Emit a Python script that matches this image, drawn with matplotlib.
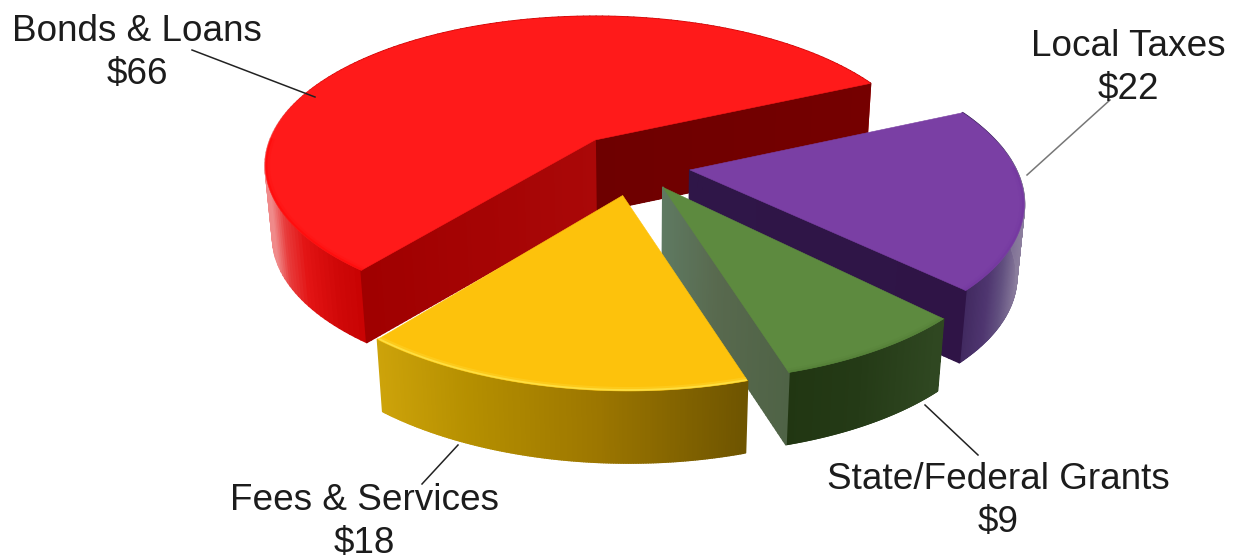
import numpy as np
import matplotlib
matplotlib.use("Agg")
import matplotlib.pyplot as plt
from matplotlib.collections import PolyCollection
from matplotlib.colors import to_rgb

# Revenue sources, listed clockwise from the top slice
categories = ["Bonds & Loans", "Local Taxes", "State/Federal Grants", "Fees & Services"]
values = [66, 22, 9, 18]

# Scene geometry for the tilted, exploded pie
CX, CY = 595, 140
RADIUS, TILT, PERSP = 325, 0.445, 0.17
THICK = 72
START_DEG = 24.8
TAPER, TAPER_X = 0.98, 640

# Per-slice styling
offsets = [(0.0, 0.0), (0.282, -0.20), (0.198, -0.31), (0.08, -0.36)]
radii = [1.0, 0.97, 0.99, 0.98]
twists = [0.0, -0.8, -1.9, -0.8]
top_colors = ["#ff1a1a", "#7a3fa4", "#5d8a3f", "#fdc20c"]
rim_colors = ["#ff0808", "#74369f", "#527e36", "#fff060"]
side_stops = [
    [(272, "#f08a8a"), (285, "#e83c3c"), (305, "#e31414"), (335, "#d00808"), (375, "#c40000")],
    [(955, "#3a2358"), (990, "#4f3670"), (1005, "#625080"), (1026, "#8f82a0")],
    [(788, "#213612"), (860, "#243a16"), (938, "#2f4721")],
    [(378, "#cda30a"), (470, "#b58f00"), (600, "#9c7600"), (745, "#6f5500")],
]
# Each radial wall is (start-side stops, end-side stops); None leaves that wall out
wall_stops = [
    ([(595, "#6e0000"), (875, "#750000")], [(365, "#a00000"), (595, "#aa0808")]),
    ([(690, "#2f1648"), (965, "#2f1446")], None),
    ([(663, "#5f7a62"), (720, "#58694e"), (790, "#4f6346")], None),
    (None, None),
]

plt.rcParams["font.family"] = ["Liberation Sans", "DejaVu Sans"]
fig = plt.figure(figsize=(12.36, 5.6), dpi=100)
ax = fig.add_axes([0, 0, 1, 1])
ax.set_xlim(0, 1236)
ax.set_ylim(560, 0)
ax.axis("off")


def project(u, v, z=0.0):
    w = 1 + PERSP * v
    x = CX + RADIUS * u / w
    y = CY - RADIUS * TILT * v / w
    x = TAPER_X + (x - TAPER_X) * (1 - (1 - TAPER) * z)
    y = y + THICK * z
    return x, y


def shade(x, stops):
    xs = [s[0] for s in stops]
    rgb = np.array([to_rgb(s[1]) for s in stops])
    return np.column_stack([np.interp(x, xs, rgb[:, i]) for i in range(3)])


def strip(x0, y0, x1, y1, stops, zorder):
    """Fill the band between two polylines, shaded by horizontal position."""
    quads = [
        [(x0[i], y0[i]), (x0[i + 1], y0[i + 1]), (x1[i + 1], y1[i + 1]), (x1[i], y1[i])]
        for i in range(len(x0) - 1)
    ]
    cols = shade((x0[:-1] + x0[1:]) / 2, stops)
    ax.add_collection(PolyCollection(quads, facecolors=cols, edgecolors=cols,
                                     linewidths=1.3, zorder=zorder))


def draw_slice(i, a0, a1, z):
    du, dv = offsets[i]
    r = radii[i]
    a0, a1 = a0 + twists[i], a1 + twists[i]
    th = np.radians(np.linspace(a0, a1, 160))
    u, v = du + r * np.cos(th), dv + r * np.sin(th)

    # Outer curved wall
    xt, yt = project(u, v)
    xb, yb = project(u, v, np.ones_like(u))
    strip(xt, yt, xb, yb, side_stops[i], z)

    # Radial walls run from the apex out to the rim at each edge of the slice
    for stops, ang in zip(wall_stops[i], (a0, a1)):
        if stops is None:
            continue
        t = np.linspace(0, r, 60)
        wu = du + t * np.cos(np.radians(ang))
        wv = dv + t * np.sin(np.radians(ang))
        xw, yw = project(wu, wv)
        xwb, ywb = project(wu, wv, np.ones_like(t))
        strip(xw, yw, xwb, ywb, stops, z + 0.1)

    # Flat top, with a soft bevel only where the rim faces the viewer
    ax_x, ax_y = project(du, dv)
    ax.fill(np.r_[ax_x, xt], np.r_[ax_y, yt], color=top_colors[i], lw=0.4, zorder=z + 0.2)
    front = np.sin(th) < 0.02
    for scale, alpha, lw in ((0.992, 0.18, 3.0), (0.996, 0.55, 1.3)):
        xr, yr = project(du + r * scale * np.cos(th[front]), dv + r * scale * np.sin(th[front]))
        ax.plot(xr, yr, color=rim_colors[i], alpha=alpha, lw=lw,
                solid_capstyle="butt", zorder=z + 0.3)


# Slice angles follow the values; the largest sweeps over the back of the pie
total = sum(values)
spans = [val / total * 360 for val in values]
draw_slice(0, START_DEG, START_DEG + spans[0], 1)
angle = START_DEG
for idx in range(1, len(values)):
    angle -= spans[idx]
    draw_slice(idx, angle, angle + spans[idx], idx + 1)

label_pos = [(137, 53), (1128, 68), (998, 501), (364, 522)]
leaders = [((192, 50), (315, 97), "#222222"),
           ((1110, 100), (1027, 175), "#777777"),
           ((925, 405), (978, 455), "#222222"),
           ((458, 445), (422, 484), "#222222")]

for name, val, (lx, ly) in zip(categories, values, label_pos):
    ax.text(lx, ly, f"{name}\n${val}", ha="center", va="center", fontsize=26.6,
            color="#1c1c1c", linespacing=1.3, zorder=10)
for p0, p1, col in leaders:
    ax.plot([p0[0], p1[0]], [p0[1], p1[1]], color=col, lw=1.1, zorder=9)

fig.savefig("out.png", dpi=100, facecolor="white")
